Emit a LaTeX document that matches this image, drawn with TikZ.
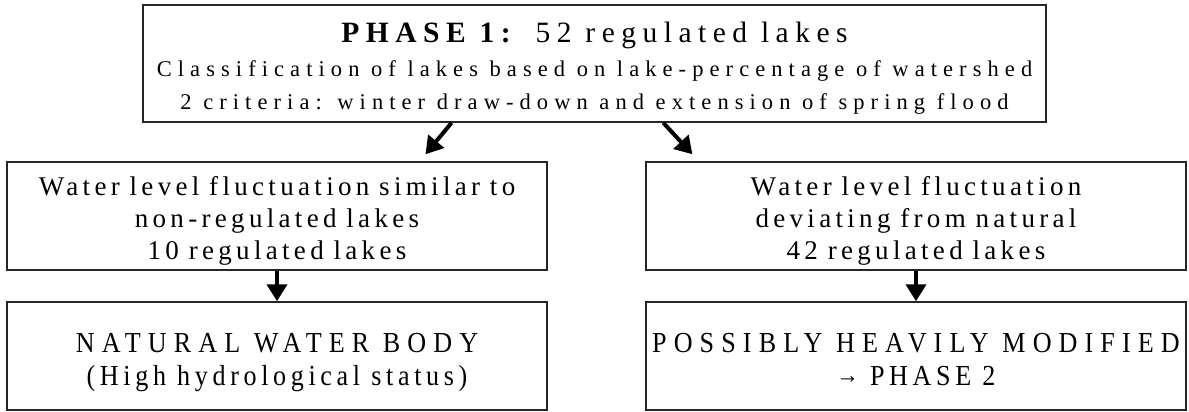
\documentclass[tikz,border=0pt]{standalone}
\usepackage{fontspec}
\setmainfont{Liberation Serif}
\usetikzlibrary{arrows.meta,calc}
% wider gaps between words
\newcommand{\wordgap}[1]{\spaceskip #1\relax}
\begin{document}
\begin{tikzpicture}[x=1pt,y=-1pt,
  box/.style={draw=black!85, line width=1.5pt, rectangle, inner sep=0pt,
    minimum width=540pt, minimum height=108pt},
  line/.style={anchor=base, inner sep=0pt, text=black},
  arr/.style={line width=4pt, -{Triangle[length=17pt,width=20pt]}},
  titlefont/.style={font={\fontsize{29.5}{33}\selectfont\addfontfeatures{LetterSpace=22}}},
  subfont/.style={font={\fontsize{22.5}{27}\selectfont\addfontfeatures{LetterSpace=27}\wordgap{11.6pt}}},
  bodyfont/.style={font={\fontsize{27}{31}\selectfont\addfontfeatures{LetterSpace=16}\wordgap{9.8pt}}},
  capsfont/.style={font={\fontsize{29}{33}\selectfont\addfontfeatures{FakeStretch=0.9,LetterSpace=24.5}}},
  smallfont/.style={font={\fontsize{29}{33}\selectfont\addfontfeatures{FakeStretch=0.9,LetterSpace=16}}}]
\useasboundingbox (0,0) rectangle (1189,412);

% phase 1 header
\node[box, minimum width=903pt, minimum height=117pt] (top) at (594.5,63.5) {};
\node[line, titlefont] (t1) at (594.5,43) {\textbf{PHASE 1:} 52 regulated lakes};
\node[line, subfont] (t2) at (594.5,77) {Classification of lakes based on lake-percentage of watershed};
\node[line, subfont] (t3) at (594.5,110) {2 criteria: winter draw-down and extension of spring flood};

% classification results
\node[box] (midl) at (277,216) {};
\node[line, bodyfont] (l1) at (277,195) {Water level fluctuation similar to};
\node[line, bodyfont] (l2) at (277,227) {non-regulated lakes};
\node[line, bodyfont] (l3) at (277,259) {10 regulated lakes};

\node[box] (midr) at (916,216) {};
\node[line, bodyfont] (r1) at (916,195) {Water level fluctuation};
\node[line, bodyfont] (r2) at (916,227) {deviating from natural};
\node[line, bodyfont] (r3) at (916,259) {42 regulated lakes};

% outcomes
\node[box] (lowl) at (277,356) {};
\node[line, capsfont] (n1) at (277,352) {NATURAL WATER BODY};
\node[line, smallfont] (n2) at (277,385) {(High hydrological status)};

\node[box] (lowr) at (916,356) {};
\node[line, capsfont] (p1) at (916,352) {POSSIBLY HEAVILY MODIFIED};
\node[line, smallfont] (p2) at (916,385) {\raisebox{2pt}{\fontsize{25}{29}\selectfont →} PHASE 2};

% connectors
\draw[arr, shorten >=9pt] ($(top.south west)!0.342!(top.south east)$)
  -- ($(midl.north west)!0.7635!(midl.north east)$);
\draw[arr, shorten >=9.5pt] ($(top.south west)!0.576!(top.south east)$)
  -- ($(midr.north west)!0.099!(midr.north east)$);
\draw[arr] (midl.south) -- (lowl.north);
\draw[arr] (midr.south) -- (lowr.north);
\end{tikzpicture}
\end{document}
